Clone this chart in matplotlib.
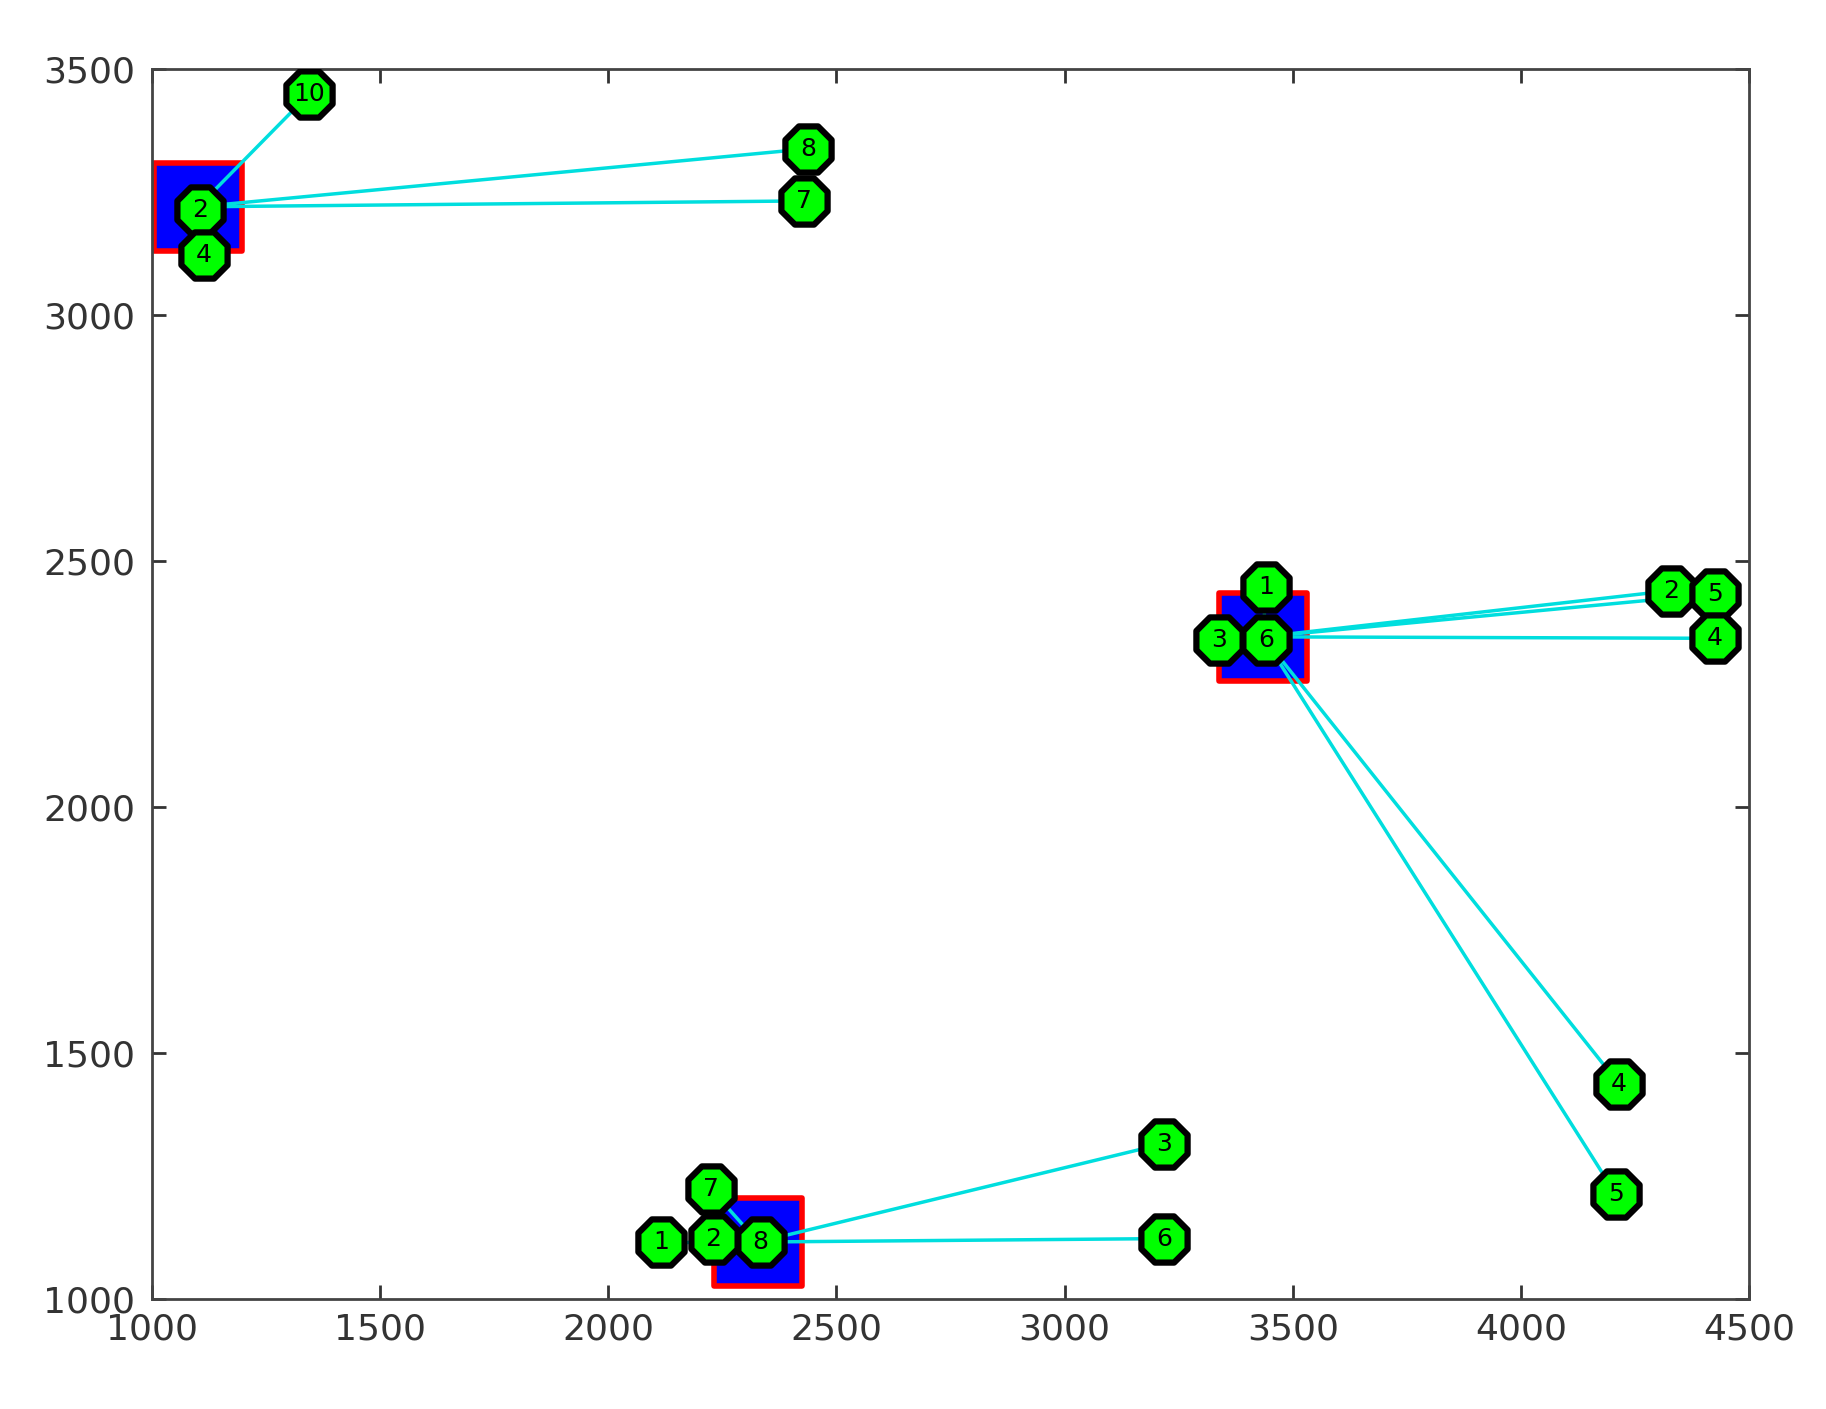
import matplotlib
matplotlib.use("Agg")
import matplotlib.pyplot as plt

# cluster centres (blue squares)
centre_x = [1102, 3435, 2329]
centre_y = [3220, 2346, 1116]

# members of each cluster: x, y, label
c1_x = [1345, 2438, 2430, 1107, 1115]
c1_y = [3449, 3338, 3232, 3213, 3122]
c1_lab = ["10", "8", "7", "2", "4"]

c2_x = [3441, 3338, 3441, 4329, 4424, 4424, 4214, 4207]
c2_y = [2447, 2340, 2340, 2440, 2433, 2343, 1438, 1214]
c2_lab = ["1", "3", "6", "2", "5", "4", "4", "5"]

c3_x = [2117, 2231, 2334, 2226, 3218, 3218]
c3_y = [1116, 1123, 1116, 1223, 1316, 1123]
c3_lab = ["1", "2", "8", "7", "3", "6"]

clusters = [(c1_x, c1_y, c1_lab), (c2_x, c2_y, c2_lab), (c3_x, c3_y, c3_lab)]

fig = plt.figure(figsize=(18.26, 14.09), dpi=100)
ax = fig.add_axes([0.083, 0.078, 0.875, 0.873])

ax.scatter(centre_x, centre_y, marker="s", s=64**2, c="#0000ff",
           edgecolors="red", linewidths=4, zorder=2)

for (cx, cy), (xs, ys, labs) in zip(zip(centre_x, centre_y), clusters):
    for x, y in zip(xs, ys):
        ax.plot([cx, x], [cy, y], color="#00dede", lw=2.5, zorder=3)
    ax.scatter(xs, ys, marker="8", s=36**2, c="#00ff00", edgecolors="black",
               linewidths=4.5, zorder=4)
    for x, y, lab in zip(xs, ys, labs):
        ax.text(x, y, lab, ha="center", va="center", fontsize=18, zorder=5)

ax.set_xlim(1000, 4500)
ax.set_ylim(1000, 3500)
ax.set_xticks(range(1000, 4501, 500))
ax.set_yticks(range(1000, 3501, 500))
ax.tick_params(direction="in", length=10, width=2, labelsize=26,
               top=True, right=True, colors="#333333")
ax.tick_params(axis="x", pad=10)
ax.tick_params(axis="y", pad=12)
for sp in ax.spines.values():
    sp.set_linewidth(2)
    sp.set_color("#444444")

fig.savefig("out.png", dpi=100)
